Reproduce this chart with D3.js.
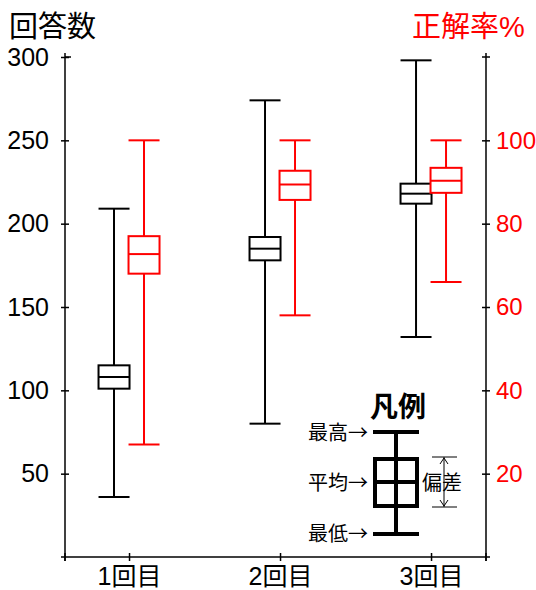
<!DOCTYPE html>
<html><head><meta charset="utf-8">
<script src="https://cdn.jsdelivr.net/npm/d3@7"></script>
<style>
body{margin:0;background:#fff;}
text{font-family:"Liberation Sans","Noto Sans CJK JP",sans-serif;}
</style></head>
<body><svg id="c" width="536" height="590"></svg>
<script>
const categories = ["1回目","2回目","3回目"];
// 回答数: [max, boxTop, mean, boxBottom, min]
const countMax = [209, 274, 298];
const countHigh = [115, 192, 224];
const countMean = [108, 185, 218];
const countLow = [101, 178, 212];
const countMin = [36, 80, 132];
// 正解率%
const rateMax = [100, 100, 100];
const rateHigh = [77, 92.7, 93.4];
const rateMean = [72.7, 89.4, 90.3];
const rateLow = [68, 85.7, 87.4];
const rateMin = [27, 58, 66];
const leftTicks = [50, 100, 150, 200, 250, 300];
const rightTicks = [20, 40, 60, 80, 100];

const svg = d3.select("#c");
const L = 65, R = 486, B = 557, T = 57;
const x = d3.scaleLinear().domain([0.576, 3.364]).range([L, R]);
const yL = d3.scaleLinear().domain([0, 300]).range([B, T]);
const yR = d3.scaleLinear().domain([0, 120]).range([B, T]);
const off = 15, bw = 31;

// axes
const gl = svg.append("g").attr("transform", `translate(${L},0)`)
  .call(d3.axisLeft(yL).tickValues(leftTicks).tickSize(4).tickPadding(12));
gl.select(".domain").remove();
gl.selectAll(".tick line").attr("x1", -4).attr("x2", 4).attr("stroke", "#000").attr("stroke-width", 1.5);
gl.selectAll(".tick text").attr("font-size", 25).attr("fill", "#000");

const gr = svg.append("g").attr("transform", `translate(${R},0)`)
  .call(d3.axisRight(yR).tickValues(rightTicks).tickSize(4).tickPadding(6));
gr.select(".domain").remove();
gr.selectAll(".tick line").attr("x1", -4).attr("x2", 4).attr("stroke", "#000").attr("stroke-width", 1.5);
gr.selectAll(".tick text").attr("font-size", 24).attr("fill", "#ff0000");

const gx = svg.append("g").attr("transform", `translate(0,${B})`)
  .call(d3.axisBottom(x).tickValues([1,2,3]).tickFormat((d,i)=>categories[i]).tickSize(4).tickPadding(0));
gx.select(".domain").remove();
gx.selectAll(".tick line").attr("y1", -4).attr("y2", 4).attr("stroke", "#000").attr("stroke-width", 1.5);
gx.selectAll(".tick text").attr("font-size", 25).attr("fill", "#000").attr("y", 28).attr("dy", 0);

// axis lines
const ax = svg.append("g").attr("stroke", "#000").attr("stroke-width", 1.5);
ax.append("line").attr("x1", L).attr("x2", L).attr("y1", 53).attr("y2", B + 4);
ax.append("line").attr("x1", R).attr("x2", R).attr("y1", 53).attr("y2", B + 4);
ax.append("line").attr("x1", L - 4).attr("x2", R + 4).attr("y1", B).attr("y2", B);
ax.append("line").attr("x1", L).attr("x2", L + 6).attr("y1", T).attr("y2", T);
ax.append("line").attr("x1", R - 4).attr("x2", R + 4).attr("y1", T).attr("y2", T);
ax.append("line").attr("x1", L).attr("x2", L).attr("y1", B - 4).attr("y2", B + 4);
ax.append("line").attr("x1", R).attr("x2", R).attr("y1", B - 4).attr("y2", B + 4);

function drawBox(cx, y, mx, hi, me, lo, mn, color, sw) {
  const g = svg.append("g").attr("stroke", color).attr("stroke-width", sw).attr("fill", "none");
  g.append("line").attr("x1", cx).attr("x2", cx).attr("y1", y(mx)).attr("y2", y(hi));
  g.append("line").attr("x1", cx).attr("x2", cx).attr("y1", y(lo)).attr("y2", y(mn));
  g.append("line").attr("x1", cx - bw/2).attr("x2", cx + bw/2).attr("y1", y(mx)).attr("y2", y(mx));
  g.append("line").attr("x1", cx - bw/2).attr("x2", cx + bw/2).attr("y1", y(mn)).attr("y2", y(mn));
  g.append("rect").attr("x", cx - bw/2).attr("width", bw).attr("y", y(hi)).attr("height", y(lo) - y(hi)).attr("fill", "#fff");
  g.append("line").attr("x1", cx - bw/2).attr("x2", cx + bw/2).attr("y1", y(me)).attr("y2", y(me));
}
categories.forEach((c, i) => {
  const cx = x(i + 1);
  drawBox(cx - off, yL, countMax[i], countHigh[i], countMean[i], countLow[i], countMin[i], "#000", 2);
  drawBox(cx + off, yR, rateMax[i], rateHigh[i], rateMean[i], rateLow[i], rateMin[i], "#ff0000", 2);
});

// titles
svg.append("text").attr("x", 9).attr("y", 37).attr("font-size", 29).attr("fill", "#000").text("回答数");
svg.append("text").attr("x", 412).attr("y", 37).attr("font-size", 29).attr("fill", "#ff0000").text("正解率%");

// legend
const lg = svg.append("g");
lg.append("text").attr("x", 398).attr("y", 417).attr("text-anchor", "middle").attr("font-size", 28).attr("font-weight", "bold").style("font-family", "'Noto Sans CJK JP',sans-serif").text("凡例");
const lk = lg.append("g").attr("stroke", "#000").attr("stroke-width", 4).attr("fill", "none");
lk.append("line").attr("x1", 396).attr("x2", 396).attr("y1", 432).attr("y2", 534);
lk.append("line").attr("x1", 373).attr("x2", 419).attr("y1", 432).attr("y2", 432);
lk.append("line").attr("x1", 373).attr("x2", 419).attr("y1", 534).attr("y2", 534);
lk.append("rect").attr("x", 375).attr("y", 459).attr("width", 42).attr("height", 47);
lk.append("line").attr("x1", 375).attr("x2", 417).attr("y1", 482).attr("y2", 482);
[["最高→", 433], ["平均→", 483], ["最低→", 534]].forEach(([t, yy]) => {
  lg.append("text").attr("x", 368).attr("y", yy).attr("dy", "0.36em").attr("text-anchor", "end").attr("font-size", 20).style("font-family", "'Noto Sans CJK JP',sans-serif").text(t);
});
lg.append("text").attr("x", 422).attr("y", 483).attr("dy", "0.36em").attr("font-size", 20).style("font-family", "'Noto Sans CJK JP',sans-serif").text("偏差");
const da = lg.append("g").attr("stroke", "#000").attr("stroke-width", 1).attr("fill", "none");
da.append("line").attr("x1", 444).attr("x2", 444).attr("y1", 457).attr("y2", 507);
da.append("line").attr("x1", 432).attr("x2", 457).attr("y1", 457).attr("y2", 457);
da.append("line").attr("x1", 432).attr("x2", 457).attr("y1", 507).attr("y2", 507);
da.append("path").attr("d", "M440,464 L444,458 L448,464");
da.append("path").attr("d", "M440,500 L444,506 L448,500");
</script></body></html>
